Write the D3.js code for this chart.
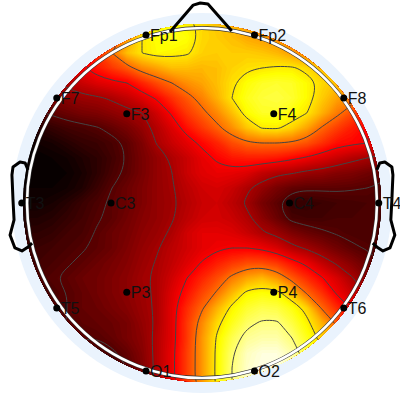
<!DOCTYPE html>
<html>
<head>
<meta charset="utf-8">
<script src="https://cdn.jsdelivr.net/npm/d3@7"></script>
<style>
  html, body { margin: 0; padding: 0; background: #fff; }
  svg { display: block; }
  text { font-family: "Liberation Sans", Arial, sans-serif; font-size: 16px; fill: #111; }
</style>
</head>
<body>
<div id="chart"></div>
<script>
// electrodes, head coordinates (-1..1, y up)
const channels = ['Fp1', 'Fp2', 'F7', 'F3', 'F4', 'F8', 'T3', 'C3', 'C4', 'T4', 'T5', 'P3', 'P4', 'T6', 'O1', 'O2']
const channelX = [-0.32, 0.30, -0.83, -0.43, 0.41, 0.81, -1.03, -0.52, 0.50, 1.01, -0.83, -0.43, 0.41, 0.81, -0.32, 0.30]
const channelY = [0.96, 0.96, 0.6, 0.51, 0.51, 0.6, 0, 0, 0, 0, -0.6, -0.51, -0.51, -0.6, -0.96, -0.96]

// scalp field, 0 = black .. 100 = white, rows top to bottom
const field = [
  [30, 32, 34, 36, 38, 40, 46, 58, 68, 74, 76, 74, 70, 67, 65, 62, 60, 58, 56, 55, 54, 54, 54, 54, 54],
  [28, 30, 32, 34, 36, 40, 46, 60, 72, 76, 78, 76, 70, 68, 66, 63, 61, 59, 58, 57, 56, 56, 56, 56, 56],
  [26, 28, 30, 32, 36, 46, 54, 66, 72, 75, 74, 73, 69, 68, 68, 68, 67, 65, 61, 57, 56, 56, 57, 57, 57],
  [22, 24, 26, 30, 36, 41, 46, 51, 58, 62, 66, 66, 65, 66, 69, 71, 72, 73, 73, 70, 66, 62, 60, 59, 58],
  [20, 22, 24, 27, 30, 33, 35, 37, 43, 49, 54, 59, 62, 66, 71, 76, 79, 80, 79, 75, 70, 66, 60, 56, 54],
  [14, 15, 19, 21, 23, 24, 26, 29, 33, 38, 45, 51, 57, 64, 72, 78, 81, 82, 80, 75, 68, 62, 58, 50, 46],
  [10, 12, 14, 16, 18, 19, 21, 23, 25, 31, 38, 46, 52, 58, 66, 75, 79, 79, 76, 72, 64, 56, 49, 42, 38],
  [4, 6, 8, 10, 11, 12.5, 15, 18, 22, 27, 33, 40, 46, 52, 59, 67, 72.5, 73, 69, 62, 53, 47, 42, 38, 34],
  [2, 3, 4, 6, 8, 9, 11, 14, 19, 25.5, 30, 34, 38.5, 43, 49, 53, 54, 54, 53, 50, 45, 40, 38.5, 37, 33],
  [1, 1, 2, 3, 5, 7, 10, 13.5, 18, 22, 26, 30, 34.5, 38, 41, 42, 42, 41, 38.5, 36, 33, 30, 27, 25, 23],
  [1, 1, 1, 2, 4, 7, 11, 14, 18, 22, 25, 30, 33.5, 35, 34.5, 33, 29, 26.5, 25.5, 23, 22, 20, 19, 17, 15],
  [2, 2, 2, 3, 5, 9, 13, 16, 19, 22, 24.5, 28, 31, 32, 30, 26, 22, 18, 15, 14, 14, 14, 13.5, 13, 12],
  [3, 3, 4, 6, 9, 11.5, 14, 16, 19, 22, 24, 27, 30, 31, 28, 24, 18, 14, 8, 8, 9, 10, 10.5, 11, 11],
  [5, 5, 6, 8, 10, 12.5, 14, 17, 20, 22, 24.5, 28, 31, 31.5, 30, 26.5, 21, 16, 11, 10, 10, 11, 11, 11, 11],
  [7, 7, 8, 10, 11, 13.5, 16, 18, 21, 23, 26, 31, 34, 34, 33, 30, 26, 23, 19, 16, 14, 12.5, 11.5, 11, 11],
  [9, 9, 10, 11, 12.5, 14, 16, 19, 22, 24.5, 28, 31, 34, 36, 37, 37, 35.5, 32, 27, 24, 20.5, 17, 14, 12.5, 11],
  [10, 10, 11, 12.5, 14, 16, 18, 20, 23, 25.5, 29, 33, 37.5, 42, 46, 49, 49, 46, 40, 35, 29, 24, 20, 16, 13],
  [11, 11, 12.5, 14, 16, 17, 19, 21, 24, 26, 31, 37, 43, 49, 56, 62, 65, 60, 51, 44, 37.5, 32, 25.5, 20, 15],
  [10, 10, 11, 13, 15, 17, 19, 21, 23.5, 26, 33, 40, 48, 55, 65, 74, 76, 74.5, 66, 53, 45, 36, 30, 24, 20],
  [11, 11, 12, 13, 15, 16, 18, 20, 23, 26, 34, 44, 53, 64, 74, 80, 83, 82, 77, 69, 53, 44, 36, 30, 26],
  [12, 12, 12, 13, 14, 15, 16, 18, 22, 26, 34, 46, 58, 70, 78, 85, 88, 88, 82, 74, 64, 52, 42, 36, 30],
  [13, 13, 13, 13, 13.5, 13, 15, 18, 21, 27, 34, 46, 60, 73, 83, 90, 92, 92, 87, 78, 69, 60, 50, 42, 36],
  [11, 11, 11, 11, 11, 11, 12, 15, 20, 27, 35, 47, 60, 74, 86, 94, 97, 97, 92, 82, 73, 64, 56, 48, 40],
  [10, 10, 10, 10, 10, 10, 10, 13, 19, 27, 35, 47, 60, 74, 87, 95, 98, 98, 94, 86, 76, 68, 60, 52, 44],
  [9, 9, 9, 9, 9, 9, 9, 12, 18, 27, 35, 47, 60, 74, 87, 95, 98, 98, 94, 86, 76, 68, 60, 52, 44]
]
const levels = [13, 25, 37, 54, 72, 87]

// nose and ears, head coordinates
const nose = [[-0.183, 0.977], [-0.05, 1.131], [-0.01, 1.143], [0.034, 1.137], [0.17, 0.983]]
const leftEar = [[-0.994, 0.189], [-1.011, 0.229], [-1.04, 0.234], [-1.08, 0.206], [-1.086, 0.16], [-1.08, 0.017], [-1.074, -0.097], [-1.097, -0.183], [-1.069, -0.257], [-1.029, -0.274], [-0.994, -0.251], [-0.971, -0.229]]
const rightEar = leftEar.map(d => [-d[0] + 0.005, d[1]])

const width = 400
const height = 400
const cx = 202
const cy = 203
const radius = 175

// head coordinates to pixels
const x = d3.scaleLinear().domain([-1, 1]).range([cx - radius, cx + radius])
const y = d3.scaleLinear().domain([-1, 1]).range([cy + radius, cy - radius])
// grid index to pixels (d3.contours puts sample i at i + 0.5)
const n = field.length
const gx = d3.scaleLinear().domain([0.5, n - 0.5]).range([22, 382])
const gy = d3.scaleLinear().domain([0.5, n - 0.5]).range([23, 383])

// matlab "hot"
const hot = d3.scaleLinear()
  .domain([0, 37.5, 75, 100])
  .range(['#000000', '#ff0000', '#ffff00', '#ffffff'])
  .clamp(true)

const svg = d3.select('#chart')
  .append('svg')
  .attr('width', width)
  .attr('height', height)

svg.append('circle')
  .attr('cx', cx).attr('cy', cy).attr('r', 190)
  .attr('fill', '#eaf3fd')

svg.append('clipPath').attr('id', 'scalp')
  .append('circle')
  .attr('cx', cx).attr('cy', cy).attr('r', 179)

const values = field.flat()
const path = d3.geoPath(d3.geoTransform({
  point (px, py) {
    this.stream.point(gx(px), gy(py))
  }
}))

const map = svg.append('g').attr('clip-path', 'url(#scalp)')

map.append('rect')
  .attr('x', 0).attr('y', 0).attr('width', width).attr('height', height)
  .attr('fill', hot(0))

map.append('g')
  .selectAll('path')
  .data(d3.contours().size([n, n]).thresholds(d3.range(1, 100, 1))(values))
  .enter()
  .append('path')
  .attr('d', path)
  .attr('fill', d => hot(d.value))

// contour lines, rounded off so the grid does not show in them
const smooth = d3.line().x(d => gx(d[0])).y(d => gy(d[1])).curve(d3.curveBasisClosed)
const rings = d3.contours().size([n, n]).thresholds(levels)(values)
  .flatMap(d => d.coordinates.flat())

map.append('g')
  .selectAll('path')
  .data(rings)
  .enter()
  .append('path')
  .attr('d', d => smooth(d.slice(1)))
  .attr('fill', 'none')
  .attr('stroke', '#444')
  .attr('stroke-width', 1)

// head outline: white band with a thin dark edge each side
svg.append('circle')
  .attr('cx', cx).attr('cy', cy).attr('r', radius)
  .attr('fill', 'none').attr('stroke', '#333').attr('stroke-width', 3.8)
svg.append('circle')
  .attr('cx', cx).attr('cy', cy).attr('r', radius)
  .attr('fill', 'none').attr('stroke', '#fff').attr('stroke-width', 2.6)

const outline = d3.line().x(d => x(d[0])).y(d => y(d[1]))

svg.append('g')
  .selectAll('path')
  .data([nose, leftEar, rightEar])
  .enter()
  .append('path')
  .attr('d', outline)
  .attr('fill', 'none')
  .attr('stroke', '#000')
  .attr('stroke-width', 3)
  .attr('stroke-linejoin', 'round')

const electrode = svg.append('g')
  .selectAll('g')
  .data(channels)
  .enter()
  .append('g')
  .attr('transform', (d, i) => `translate(${x(channelX[i])},${y(channelY[i])})`)

electrode.append('circle').attr('r', 3.5).attr('fill', '#000')
electrode.append('text')
  .attr('x', 4)
  .attr('dy', '0.36em')
  .text(d => d)
</script>
</body>
</html>
